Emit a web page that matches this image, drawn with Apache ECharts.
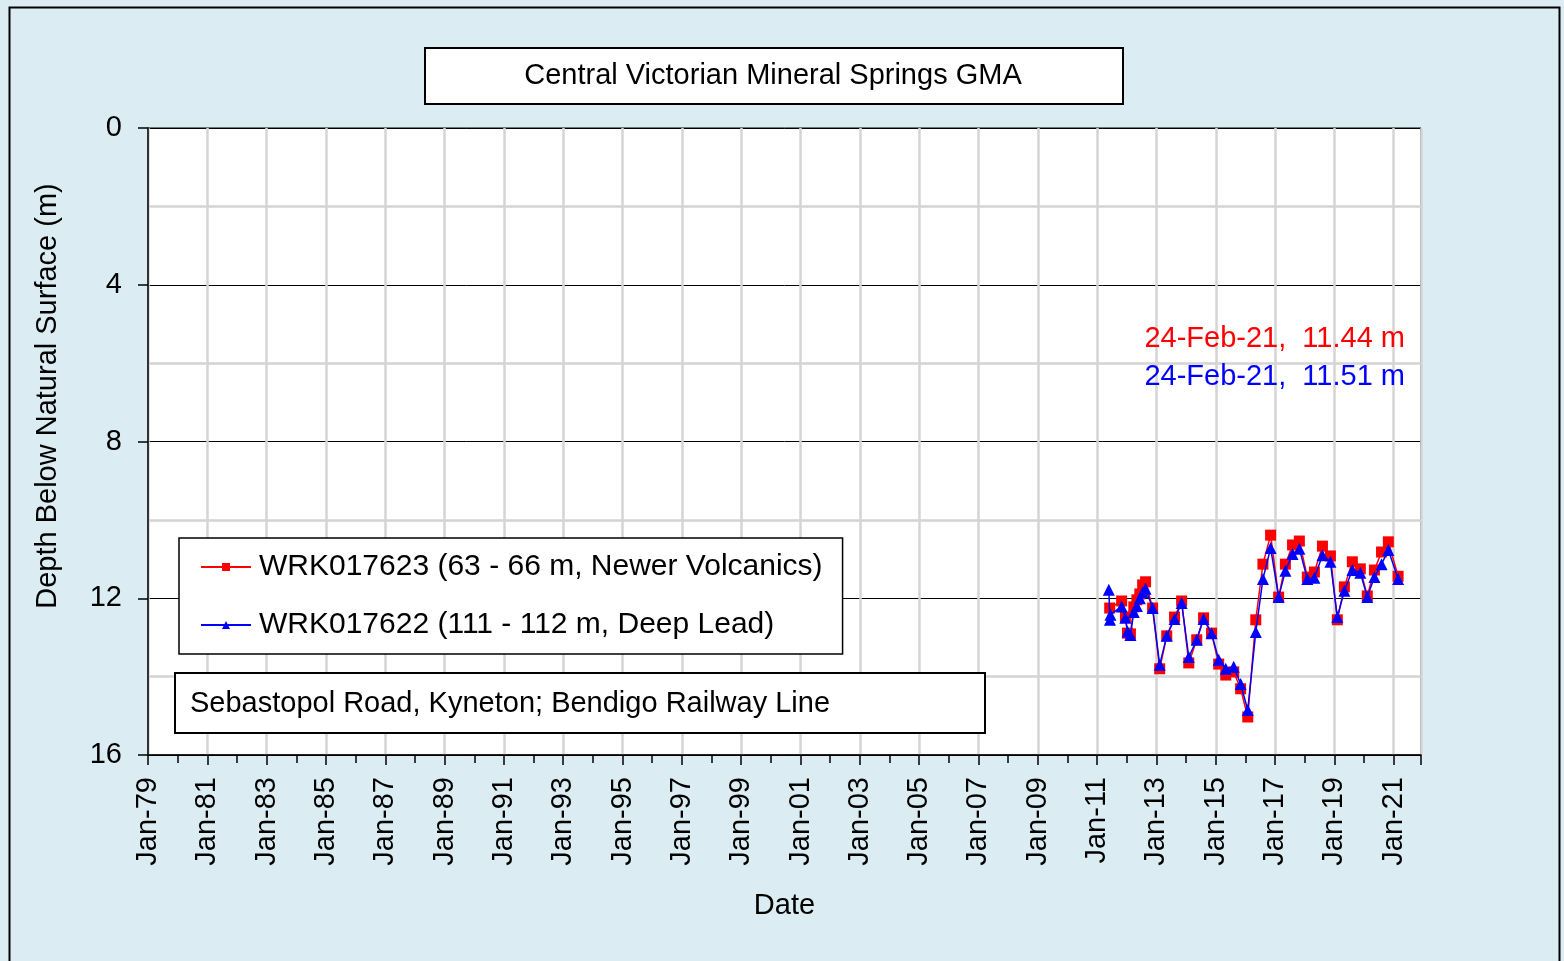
<!DOCTYPE html>
<html>
<head>
<meta charset="utf-8">
<script src="https://cdn.jsdelivr.net/npm/echarts@6/dist/echarts.min.js"></script>
<style>
  html, body { margin: 0; padding: 0; background: #dbedf3; }
  #chart { width: 1564px; height: 961px; }
</style>
</head>
<body>
<div id="chart"></div>
<script>
// Depth readings (m below natural surface)
var redDates = ['2011-06-05', '2011-10-30', '2011-12-15', '2012-01-10', '2012-02-15', '2012-03-28',
    '2012-05-05', '2012-06-10', '2012-07-15', '2012-08-20', '2012-11-15', '2013-02-10', '2013-05-08',
    '2013-08-12', '2013-11-07', '2014-02-03', '2014-05-12', '2014-08-04', '2014-11-10', '2015-02-06',
    '2015-05-04', '2015-08-10', '2015-11-03', '2016-01-30', '2016-05-08', '2016-08-04', '2016-11-07',
    '2017-02-14', '2017-05-08', '2017-08-04', '2017-10-27', '2018-02-02', '2018-04-30', '2018-08-07',
    '2018-11-13', '2019-02-06', '2019-05-04', '2019-08-10', '2019-11-16', '2020-02-10', '2020-05-08',
    '2020-08-04', '2020-10-27', '2021-02-24'];
var redDepth = [12.25, 12.07, 12.48, 12.89, 12.91, 12.22, 12.04, 11.89, 11.66, 11.58, 12.25, 13.80, 12.96,
    12.48, 12.07, 13.65, 13.06, 12.50, 12.89, 13.68, 13.96, 13.88, 14.31, 15.03, 12.55, 11.13, 10.39,
    11.97, 11.13, 10.64, 10.54, 11.46, 11.33, 10.67, 10.92, 12.55, 11.71, 11.07, 11.25, 11.94, 11.28,
    10.82, 10.56, 11.44];

var blueDates = ['2011-05-25', '2011-06-08', '2011-06-14', '2011-10-30', '2011-12-15', '2012-01-10',
    '2012-02-15', '2012-03-28', '2012-05-05', '2012-06-10', '2012-07-15', '2012-08-20', '2012-11-15',
    '2013-02-10', '2013-05-08', '2013-08-12', '2013-11-07', '2014-02-03', '2014-05-12', '2014-08-04',
    '2014-11-10', '2015-02-06', '2015-05-04', '2015-08-10', '2015-11-03', '2016-01-30', '2016-05-08',
    '2016-08-04', '2016-11-07', '2017-02-14', '2017-05-08', '2017-08-04', '2017-10-27', '2018-02-02',
    '2018-04-30', '2018-08-07', '2018-11-13', '2019-02-06', '2019-05-04', '2019-08-10', '2019-11-16',
    '2020-02-10', '2020-05-08', '2020-08-04', '2020-10-27', '2021-02-24'];
var blueDepth = [11.78, 12.55, 12.42, 12.21, 12.50, 12.85, 12.94, 12.35, 12.20, 12.00, 11.85, 11.76, 12.25,
    13.70, 12.96, 12.53, 12.12, 13.50, 13.06, 12.53, 12.89, 13.57, 13.80, 13.75, 14.19, 14.85, 12.86,
    11.51, 10.72, 11.97, 11.30, 10.87, 10.74, 11.51, 11.48, 10.90, 11.07, 12.48, 11.81, 11.28, 11.35,
    11.97, 11.46, 11.13, 10.77, 11.51];

var seriesNames = ['WRK017623 (63 - 66 m, Newer Volcanics)', 'WRK017622 (111 - 112 m, Deep Lead)'];
var lastReadings = ['24-Feb-21,  11.44 m', '24-Feb-21,  11.51 m'];

var baseYear = 1979;   // x axis counts years since Jan-79
var axisEnd = 42.92;   // ~Dec-21

var FONT = '"Liberation Sans", Arial, sans-serif';

function yearsSinceBase(s) {
    var d = new Date(s + 'T00:00:00Z');
    var y = d.getUTCFullYear();
    var start = Date.UTC(y, 0, 1), end = Date.UTC(y + 1, 0, 1);
    return y - baseYear + (d.getTime() - start) / (end - start);
}

function pairs(dates, vals) {
    var out = [];
    for (var i = 0; i < dates.length; i++) {
        out.push([yearsSinceBase(dates[i]), vals[i]]);
    }
    return out;
}

var chart = echarts.init(document.getElementById('chart'));

var option = {
    backgroundColor: '#dbedf3',
    animation: false,
    textStyle: { fontFamily: FONT },
    grid: {
        left: 148, top: 128, right: 143, bottom: 206,
        show: true, backgroundColor: '#ffffff', borderColor: '#000', borderWidth: 1
    },
    legend: {
        orient: 'vertical',
        left: 179, top: 538,
        backgroundColor: '#ffffff',
        borderColor: '#000', borderWidth: 1.5,
        padding: [13, 20, 13, 21],
        itemWidth: 50, itemHeight: 10, itemGap: 26,
        textStyle: { fontSize: 30, color: '#000', lineHeight: 32, fontFamily: FONT, padding: [0, 0, 0, 3] },
        data: seriesNames
    },
    xAxis: {
        type: 'value',
        min: 0, max: axisEnd, interval: 2,
        name: 'Date', nameLocation: 'middle', nameGap: 136,
        nameTextStyle: { fontSize: 29, color: '#000', fontFamily: FONT },
        axisLine: { show: true, onZero: false, lineStyle: { color: '#000', width: 1.5 } },
        axisTick: { show: true, length: 10, lineStyle: { color: '#000', width: 1.5 } },
        minorTick: { show: true, splitNumber: 2, length: 8, lineStyle: { color: '#000', width: 1.5 } },
        axisLabel: {
            rotate: 90, fontSize: 29, color: '#000', margin: 22, showMaxLabel: false,
            formatter: function (v) {
                var y = Math.round(v) + baseYear;
                return 'Jan-' + String(y % 100).padStart(2, '0');
            }
        },
        splitLine: { show: true, lineStyle: { color: '#d4d4d4', width: 2.5 } }
    },
    yAxis: {
        type: 'value',
        inverse: true,
        min: 0, max: 16, interval: 4,
        axisLine: { show: true, lineStyle: { color: '#000', width: 1.5 } },
        axisTick: { show: true, length: 10, lineStyle: { color: '#000', width: 1.5 } },
        axisLabel: { fontSize: 29, color: '#000', margin: 26 },
        splitLine: { show: true, lineStyle: { color: '#000', width: 1 } },
        minorTick: { show: false, splitNumber: 2 },
        minorSplitLine: { show: true, lineStyle: { color: '#d4d4d4', width: 2.5 } }
    },
    series: [{
        name: seriesNames[0],
        type: 'line',
        data: pairs(redDates, redDepth),
        symbol: 'rect', symbolSize: 11,
        lineStyle: { color: '#ff0000', width: 1.5 },
        itemStyle: { color: '#ff0000' },
        z: 3
    }, {
        name: seriesNames[1],
        type: 'line',
        data: pairs(blueDates, blueDepth),
        symbol: 'triangle', symbolSize: 12,
        lineStyle: { color: '#0000ff', width: 1.5 },
        itemStyle: { color: '#0000ff' },
        z: 4
    }],
    graphic: [{
        type: 'rect', left: 7, top: 5, z: 100, silent: true,
        shape: { width: 1550, height: 970 },
        style: { fill: 'none', stroke: '#000', lineWidth: 2 }
    }, {
        type: 'rect', left: 424, top: 47, z: 100,
        shape: { width: 698, height: 56 },
        style: { fill: '#fff', stroke: '#000', lineWidth: 2 }
    }, {
        type: 'text', x: 773, y: 76, z: 101,
        style: { text: 'Central Victorian Mineral Springs GMA', fill: '#000', font: '29px ' + FONT,
                 textAlign: 'center', textVerticalAlign: 'middle' }
    }, {
        type: 'rect', left: 174, top: 672, z: 100,
        shape: { width: 810, height: 60 },
        style: { fill: '#fff', stroke: '#000', lineWidth: 2 }
    }, {
        type: 'text', left: 190, top: 689, z: 101,
        style: { text: 'Sebastopol Road, Kyneton; Bendigo Railway Line', fill: '#000', font: '29px ' + FONT }
    }, {
        type: 'text', x: 48, y: 396, rotation: Math.PI / 2, z: 101,
        style: { text: 'Depth Below Natural Surface (m)', fill: '#000', font: '29px ' + FONT,
                 textAlign: 'center', textVerticalAlign: 'middle' }
    }, {
        type: 'text', right: 159, top: 324, z: 101,
        style: { text: lastReadings[0], fill: '#ff0000', font: '29px ' + FONT }
    }, {
        type: 'text', right: 159, top: 362, z: 101,
        style: { text: lastReadings[1], fill: '#0000ff', font: '29px ' + FONT }
    }]
};

chart.setOption(option);
</script>
</body>
</html>
